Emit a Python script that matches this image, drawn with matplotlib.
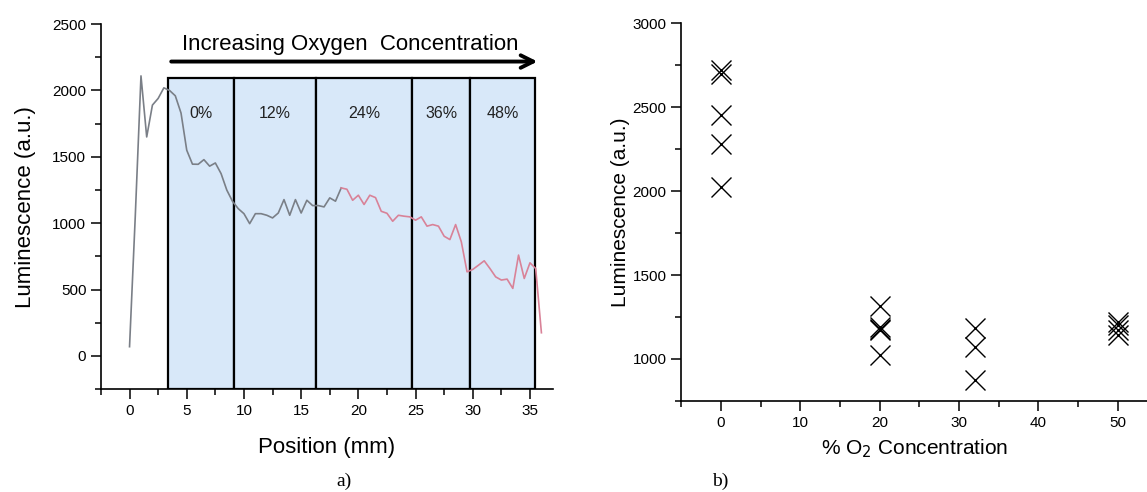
import matplotlib
matplotlib.use('Agg')
import matplotlib.pyplot as plt
from matplotlib.ticker import MultipleLocator

plt.rcParams['font.family'] = ['Liberation Sans', 'DejaVu Sans']

# Panel a) luminescence profile along the sample
position = [0, 0.5, 1.0, 1.5, 2.0, 2.5, 3.0, 3.5, 4.0, 4.5, 5.0, 5.5, 6.0, 6.5, 7.0, 7.5,
            8.0, 8.5, 9.0, 9.5, 10.0, 10.5, 11.0, 11.5, 12.0, 12.5, 13.0, 13.5, 14.0, 14.5,
            15.0, 15.5, 16.0, 16.5, 17.0, 17.5, 18.0, 18.5, 19.0, 19.5, 20.0, 20.5, 21.0,
            21.5, 22.0, 22.5, 23.0, 23.5, 24.0, 24.5, 25.0, 25.5, 26.0, 26.5, 27.0, 27.5,
            28.0, 28.5, 29.0, 29.5, 30.0, 30.5, 31.0, 31.5, 32.0, 32.5, 33.0, 33.5, 34.0,
            34.5, 35.0, 35.5, 36.0]
lum = [70, 1050, 2110, 1650, 1890, 1940, 2020, 2000, 1960, 1830, 1550, 1445, 1444, 1479,
       1430, 1454, 1374, 1250, 1165, 1110, 1072, 997, 1072, 1072, 1060, 1040, 1077, 1178,
       1060, 1178, 1077, 1173, 1133, 1133, 1123, 1191, 1166, 1266, 1256, 1173, 1211, 1141,
       1211, 1193, 1090, 1075, 1015, 1060, 1053, 1048, 1023, 1048, 978, 990, 978, 902, 877,
       990, 860, 634, 652, 684, 717, 659, 596, 572, 579, 509, 760, 584, 702, 659, 175]
split_at = 37  # index where line turns pink (x = 18.5)

zone_edges = [3.4, 9.1, 16.3, 24.7, 29.8, 35.4]
zone_labels = ['0%', '12%', '24%', '36%', '48%']
zone_top = 2093

# Panel b) luminescence vs O2 concentration
conc = [0, 0, 0, 0, 0, 20, 20, 20, 20, 20, 32, 32, 32, 50, 50, 50, 50]
lum_b = [2720, 2695, 2450, 2280, 2025, 1316, 1192, 1180, 1170, 1024, 1185, 1070, 875,
         1222, 1200, 1175, 1140]

fig = plt.figure(figsize=(11.47, 4.92), dpi=100)

# ---------- a) ----------
ax = fig.add_axes([0.088, 0.209, 0.394, 0.742])
ymin = -250
widths = [zone_edges[i + 1] - zone_edges[i] for i in range(len(zone_labels))]
ax.bar(zone_edges[:-1], [zone_top - ymin] * len(widths), width=widths, bottom=ymin,
       align='edge', color='#d8e8f9', edgecolor='black', linewidth=1.6, zorder=1)
for i, lab in enumerate(zone_labels):
    ax.text(zone_edges[i] + widths[i] / 2, 1827, lab, ha='center', va='center',
            fontsize=11.5, color='#222222', zorder=4)

ax.plot(position[:split_at + 1], lum[:split_at + 1], color='#7a7f87', lw=1.2, zorder=3)
ax.plot(position[split_at:], lum[split_at:], color='#d98298', lw=1.2, zorder=3)

ax.annotate('', xy=(35.9, 2218), xytext=(3.4, 2218),
            arrowprops=dict(arrowstyle='->,head_length=0.9,head_width=0.45',
                            lw=2.8, color='black'), zorder=4)
ax.text(19.3, 2345, 'Increasing Oxygen  Concentration', ha='center', va='center',
        fontsize=16)

ax.set_xlim(-2.5, 37)
ax.set_ylim(ymin, 2500)
ax.xaxis.set_major_locator(MultipleLocator(5))
ax.xaxis.set_minor_locator(MultipleLocator(2.5))
ax.yaxis.set_major_locator(MultipleLocator(500))
ax.yaxis.set_minor_locator(MultipleLocator(250))
ax.set_xlabel('Position (mm)', fontsize=16, labelpad=14)
ax.set_ylabel('Luminescence (a.u.)', fontsize=16, labelpad=12)

# ---------- b) ----------
bx = fig.add_axes([0.594, 0.185, 0.406, 0.768])
bx.plot(conc, lum_b, linestyle='none', marker='x', markersize=14.5,
        markeredgewidth=1.0, color='black', clip_on=False)
bx.set_xlim(-5, 53.7)
bx.set_ylim(750, 3000)
bx.xaxis.set_major_locator(MultipleLocator(10))
bx.xaxis.set_minor_locator(MultipleLocator(5))
bx.yaxis.set_major_locator(MultipleLocator(500))
bx.yaxis.set_minor_locator(MultipleLocator(250))
bx.set_xlabel('% O$_2$ Concentration', fontsize=15, labelpad=6)
bx.set_ylabel('Luminescence (a.u.)', fontsize=15, labelpad=2)

for a in (ax, bx):
    a.spines['top'].set_visible(False)
    a.spines['right'].set_visible(False)
    a.spines['left'].set_linewidth(1.2)
    a.spines['bottom'].set_linewidth(1.2)
    a.tick_params(which='major', length=7, width=1.1, labelsize=11, direction='out')
    a.tick_params(which='minor', length=4, width=1.1, direction='out')

fig.text(0.300, 0.012, 'a)', fontsize=14, family='Liberation Serif', ha='center')
fig.text(0.628, 0.012, 'b)', fontsize=14, family='Liberation Serif', ha='center')

fig.savefig('out.png', dpi=100)
